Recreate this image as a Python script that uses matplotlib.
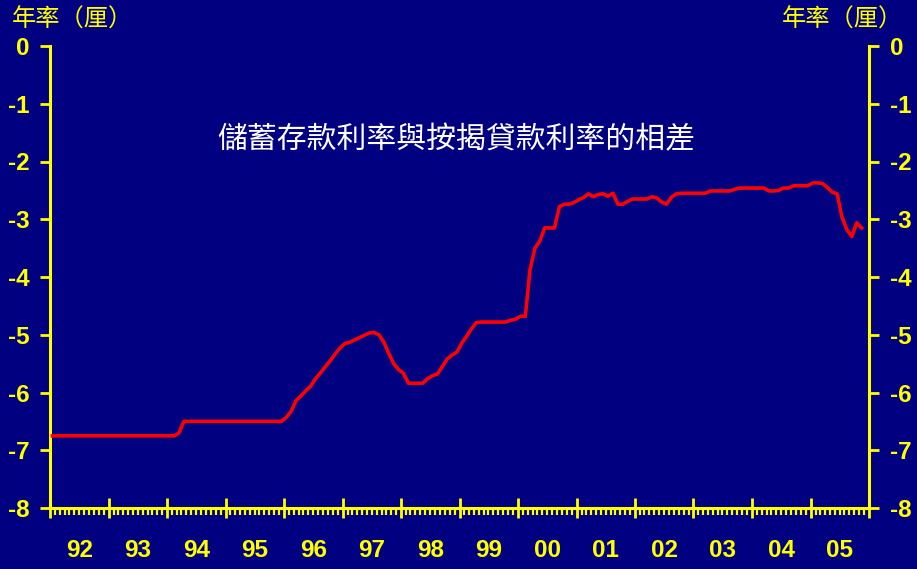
import matplotlib
matplotlib.use("Agg")
import matplotlib.pyplot as plt
import matplotlib.dates as mdates
import matplotlib.transforms as mtransforms
import pandas as pd

plt.rcParams['axes.unicode_minus'] = False

# Monthly spread (saving rate minus mortgage rate), Jan 1992 - Nov 2005, percentage points
v1992 = [-6.75] * 12
v1993 = [-6.75] * 12
v1994 = [-6.75, -6.75, -6.70, -6.50, -6.50, -6.50, -6.50, -6.50, -6.50, -6.50, -6.50, -6.50]
v1995 = [-6.50] * 12
v1996 = [-6.43, -6.32, -6.14, -6.06, -5.97, -5.89, -5.76, -5.66, -5.55, -5.45, -5.33, -5.23]
v1997 = [-5.15, -5.13, -5.09, -5.05, -5.01, -4.97, -4.96, -5.00, -5.13, -5.32, -5.50, -5.60]
v1998 = [-5.67, -5.84, -5.84, -5.84, -5.84, -5.76, -5.71, -5.68, -5.55, -5.42, -5.35, -5.30]
v1999 = [-5.14, -5.02, -4.90, -4.79, -4.78, -4.78, -4.78, -4.78, -4.78, -4.78, -4.75, -4.73]
v2000 = [-4.68, -4.68, -3.88, -3.50, -3.38, -3.15, -3.15, -3.15, -2.78, -2.74, -2.74, -2.71]
v2001 = [-2.66, -2.62, -2.56, -2.61, -2.57, -2.56, -2.60, -2.55, -2.74, -2.74, -2.69, -2.65]
v2002 = [-2.65, -2.65, -2.65, -2.61, -2.63, -2.70, -2.74, -2.62, -2.56, -2.55, -2.55, -2.55]
v2003 = [-2.55, -2.55, -2.55, -2.51, -2.51, -2.51, -2.51, -2.51, -2.48, -2.46, -2.46, -2.46]
v2004 = [-2.46, -2.46, -2.46, -2.51, -2.51, -2.50, -2.46, -2.46, -2.42, -2.42, -2.42, -2.42]
v2005 = [-2.37, -2.37, -2.38, -2.45, -2.53, -2.56, -2.96, -3.18, -3.30, -3.06, -3.15]

values = (v1992 + v1993 + v1994 + v1995 + v1996 + v1997 + v1998 + v1999 +
          v2000 + v2001 + v2002 + v2003 + v2004 + v2005)
dates = pd.date_range('1992-01-01', periods=len(values), freq='MS') + pd.Timedelta(days=15)

year_labels = ['92', '93', '94', '95', '96', '97', '98', '99', '00', '01', '02', '03', '04', '05']
ytick_vals = [0, -1, -2, -3, -4, -5, -6, -7, -8]
ytick_labels = ['0', '-1', '-2', '-3', '-4', '-5', '-6', '-7', '-8']

title = '儲蓄存款利率與按揭貸款利率的相差'
unit = '年率（厘）'

NAVY = '#000080'
YEL = '#FFFF00'
CJK = ['Noto Sans CJK TC', 'DejaVu Sans']
NUM = ['Liberation Sans', 'DejaVu Sans']

fig = plt.figure(figsize=(9.17, 5.69), dpi=100, facecolor=NAVY)
ax = fig.add_axes([50/917, 1-508/569, (869-50)/917, (508-46)/569])
ax.set_facecolor(NAVY)

ax.plot(dates, values, color='#FF0000', lw=2.6, solid_joinstyle='round', zorder=3, clip_on=False)

ax.set_xlim(pd.Timestamp('1992-01-01'), pd.Timestamp('2006-01-01'))
ax.set_ylim(-8, 0)

for s in ['left', 'right', 'bottom']:
    ax.spines[s].set_color(YEL)
    ax.spines[s].set_linewidth(2.2)
ax.spines['top'].set_visible(False)

ax.xaxis.set_major_locator(mdates.YearLocator())
ax.xaxis.set_minor_locator(mdates.MonthLocator())
ax.tick_params(axis='x', which='major', direction='inout', length=15, width=2, color=YEL,
               labelbottom=False)
ax.tick_params(axis='x', which='minor', direction='out', length=5, width=1.6, color=YEL)

ax.set_yticks(ytick_vals)
ax.set_yticklabels(ytick_labels)
ax.tick_params(axis='y', which='major', direction='out', length=7, width=2, color=YEL,
               left=True, right=True, labelleft=True, labelright=True, pad=8,
               labelcolor=YEL, labelsize=17.5)
for lab in ax.get_yticklabels():
    lab.set_fontweight('bold')
    lab.set_family(NUM)

trans = mtransforms.blended_transform_factory(ax.transData, ax.transAxes)
for k, lab in enumerate(year_labels):
    x = pd.Timestamp(f'{1992 + k}-07-02')
    ax.text(x, -0.093, lab, transform=trans, ha='center', va='center',
            color=YEL, fontsize=17.5, fontweight='bold', family=NUM)

fig.text(12/917, 1-20/569, unit, ha='left', va='center', color=YEL, fontsize=17.5,
         fontweight='medium', family=CJK)
fig.text(903/917, 1-20/569, unit, ha='right', va='center', color=YEL, fontsize=17.5,
         fontweight='medium', family=CJK)
fig.text(456/917, 1-140/569, title, ha='center', va='center', color='white', fontsize=21.5,
         family=CJK)

fig.savefig('out.png', dpi=100, facecolor=NAVY)
